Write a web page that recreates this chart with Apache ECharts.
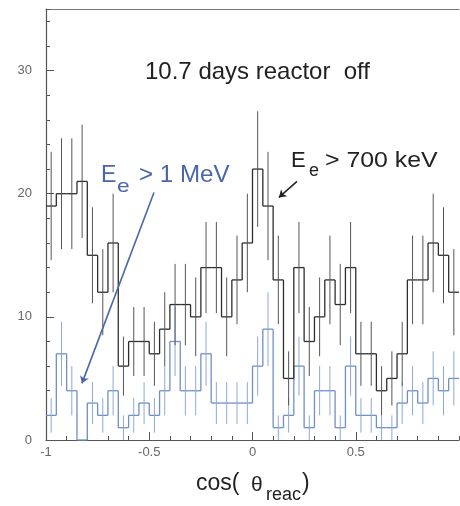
<!DOCTYPE html>
<html><head><meta charset="utf-8">
<script src="https://cdn.jsdelivr.net/npm/echarts@6/dist/echarts.min.js"></script>
<style>html,body{margin:0;padding:0;background:#fff}#c{width:460px;height:506px}</style>
</head><body><div id="c"></div>
<script>
// ---- data ----
const binLow = -1;
const binWidth = 0.05;
const blackCounts = [19,20,20,21,15,12,16,6,8,8,7,9,11,11,10,14,14,10,13,16,22,19,13,5,14,8,10,13,11,14,7,7,4,5,7,13,13,16,15,12];
const blackErr    = [4.4,4.5,4.5,4.6,3.9,3.5,4.0,2.4,2.8,2.8,2.6,3.0,3.3,3.3,3.2,3.7,3.7,3.2,3.6,4.0,4.7,4.4,3.6,2.2,3.7,2.8,3.2,3.6,3.3,3.7,2.6,2.6,2.0,2.2,2.6,3.6,3.6,4.0,3.9,3.5];
const blueCounts  = [2,7,4,0,3,2,4,1,2,3,2,4,8,4,4,7,3,3,3,3,6,9,1,2,6,1,4,4,1,6,2,2,1,1,3,4,3,5,4,5];
const blueErr     = [1.4,2.6,2.0,0,1.7,1.4,2.0,1.0,1.4,1.7,1.4,2.0,2.8,2.0,2.0,2.6,1.7,1.7,1.7,1.7,2.4,3.0,1.0,1.4,2.4,1.0,2.0,2.0,1.0,2.4,1.4,1.4,1.0,1.0,1.7,2.0,1.7,2.2,2.0,2.2];
const xTickValues = [-1, -0.5, 0, 0.5];
const yTickValues = [0, 10, 20, 30];
const titleText = '10.7 days reactor  off';
// annotation arrows in data coordinates [from, to]
const blueArrow  = [[-0.477, 20.1], [-0.826, 4.6]];
const blackArrow = [[0.2155, 21.0], [0.128, 19.7]];

const FONT = '"Liberation Sans", Arial, Helvetica, sans-serif';
const BLUE_TXT = '#4a66aa';

function histData(counts, errs) {
  return counts.map((c, i) => [
    binLow + i * binWidth,
    binLow + (i + 1) * binWidth,
    c,
    errs[i],
    i > 0 ? counts[i - 1] : c
  ]);
}

function histRenderer(lineColor, errColor, lw) {
  return function (params, api) {
    const x0 = api.value(0), x1 = api.value(1), y = api.value(2), e = api.value(3), py = api.value(4);
    const a = api.coord([x0, y]), b = api.coord([x1, y]);
    const children = [{
      type: 'line', shape: { x1: a[0], y1: a[1], x2: b[0], y2: b[1] },
      style: { stroke: lineColor, lineWidth: lw }
    }];
    if (py !== y) {
      const p = api.coord([x0, py]);
      children.push({ type: 'line', shape: { x1: a[0], y1: p[1], x2: a[0], y2: a[1] },
        style: { stroke: lineColor, lineWidth: lw } });
    }
    if (e > 0) {
      const xc = (x0 + x1) / 2;
      const lo = api.coord([xc, y - e]), hi = api.coord([xc, y + e]);
      children.push({ type: 'line', shape: { x1: lo[0], y1: lo[1], x2: hi[0], y2: hi[1] },
        style: { stroke: errColor, lineWidth: 1 } });
    }
    return { type: 'group', children };
  };
}

const chart = echarts.init(document.getElementById('c'), null, { renderer: 'canvas' });
const axisCol = '#555';
chart.setOption({
  animation: false,
  backgroundColor: '#ffffff',
  grid: { left: 46, right: 1, top: 9, bottom: 66 },
  xAxis: [{
    type: 'value', min: -1, max: 1, interval: 0.5, position: 'bottom',
    axisLine: { show: true, onZero: false, lineStyle: { color: axisCol, width: 1.2 } },
    axisTick: { show: true, inside: true, length: 8, lineStyle: { color: axisCol } },
    splitLine: { show: false },
    axisLabel: { show: true, color: '#666', fontSize: 13, fontFamily: FONT, margin: 6,
      showMaxLabel: false,
      formatter: v => (xTickValues.indexOf(v) >= 0 ? String(v) : '') }
  }, {
    type: 'value', min: -1, max: 1, interval: 0.1, position: 'bottom',
    axisLine: { show: false, onZero: false },
    axisTick: { show: true, inside: true, length: 4, lineStyle: { color: axisCol } },
    axisLabel: { show: false }, splitLine: { show: false }
  }, {
    type: 'value', min: -1, max: 1, position: 'top',
    axisLine: { show: true, onZero: false, lineStyle: { color: '#777', width: 1 } },
    axisTick: { show: false }, axisLabel: { show: false }, splitLine: { show: false }
  }],
  yAxis: [{
    type: 'value', min: 0, max: 35, interval: 10, position: 'left',
    axisLine: { show: true, onZero: false, lineStyle: { color: axisCol, width: 1.2 } },
    axisTick: { show: true, inside: true, length: 8, lineStyle: { color: axisCol } },
    splitLine: { show: false },
    axisLabel: { show: true, color: '#666', fontSize: 13, fontFamily: FONT, margin: 14,
      showMaxLabel: false,
      formatter: v => (yTickValues.indexOf(v) >= 0 ? String(v) : '') }
  }, {
    type: 'value', min: 0, max: 35, interval: 2, position: 'left',
    axisLine: { show: false, onZero: false },
    axisTick: { show: true, inside: true, length: 4, lineStyle: { color: axisCol } },
    axisLabel: { show: false }, splitLine: { show: false }
  }],
  series: [{
    type: 'custom', name: 'E>1 MeV', xAxisIndex: 0, yAxisIndex: 0,
    data: histData(blueCounts, blueErr),
    encode: { x: [0, 1], y: [2] },
    renderItem: histRenderer('#6f8fc9', '#8ea8d8', 1.3),
    z: 2
  }, {
    type: 'custom', name: 'E>700 keV', xAxisIndex: 0, yAxisIndex: 0,
    data: histData(blackCounts, blackErr),
    encode: { x: [0, 1], y: [2] },
    renderItem: histRenderer('#2e2e2e', '#555', 1.3),
    z: 3
  }, {
    type: 'line', data: [], xAxisIndex: 0, yAxisIndex: 0, silent: true,
    markLine: {
      silent: true, animation: false, symbol: ['none', 'arrow'], symbolSize: 7,
      label: { show: false },
      data: [
        [{ coord: blueArrow[0], lineStyle: { color: BLUE_TXT, width: 1.6, type: 'solid' } }, { coord: blueArrow[1] }],
        [{ coord: blackArrow[0], lineStyle: { color: '#222', width: 1.5, type: 'solid' } }, { coord: blackArrow[1] }]
      ]
    }
  }],
  graphic: [
    { type: 'text', x: 145, y: 72, style: { text: titleText, font: '24px ' + FONT, fill: '#222', align: 'left', verticalAlign: 'middle' } },
    // E_e > 700 keV
    { type: 'text', x: 291, y: 161, style: { text: 'E', font: '22px ' + FONT, fill: '#222', align: 'left', verticalAlign: 'middle' } },
    { type: 'text', x: 309, y: 171, style: { text: 'e', font: '18px ' + FONT, fill: '#222', align: 'left', verticalAlign: 'middle' } },
    { type: 'text', x: 325, y: 161, scaleX: 1.13, style: { text: '> 700 keV', font: '22px ' + FONT, fill: '#222', align: 'left', verticalAlign: 'middle' } },
    // E_e > 1 MeV
    { type: 'text', x: 101, y: 176, style: { text: 'E', font: '23px ' + FONT, fill: BLUE_TXT, align: 'left', verticalAlign: 'middle' } },
    { type: 'text', x: 117, y: 187, scaleX: 1.2, style: { text: 'e', font: '19px ' + FONT, fill: BLUE_TXT, align: 'left', verticalAlign: 'middle' } },
    { type: 'text', x: 139, y: 176, scaleX: 1.05, style: { text: '> 1 MeV', font: '23px ' + FONT, fill: BLUE_TXT, align: 'left', verticalAlign: 'middle' } },
    // x-axis title cos(θ_reac)
    { type: 'text', x: 196, y: 484, style: { text: 'cos(', font: '23px ' + FONT, fill: '#222', align: 'left', verticalAlign: 'middle' } },
    { type: 'text', x: 251, y: 485, style: { text: 'θ', font: '21px ' + FONT, fill: '#222', align: 'left', verticalAlign: 'middle' } },
    { type: 'text', x: 266, y: 495, style: { text: 'reac', font: '18px ' + FONT, fill: '#222', align: 'left', verticalAlign: 'middle' } },
    { type: 'text', x: 302, y: 484, style: { text: ')', font: '23px ' + FONT, fill: '#222', align: 'left', verticalAlign: 'middle' } }
  ]
});
</script>
</body></html>
